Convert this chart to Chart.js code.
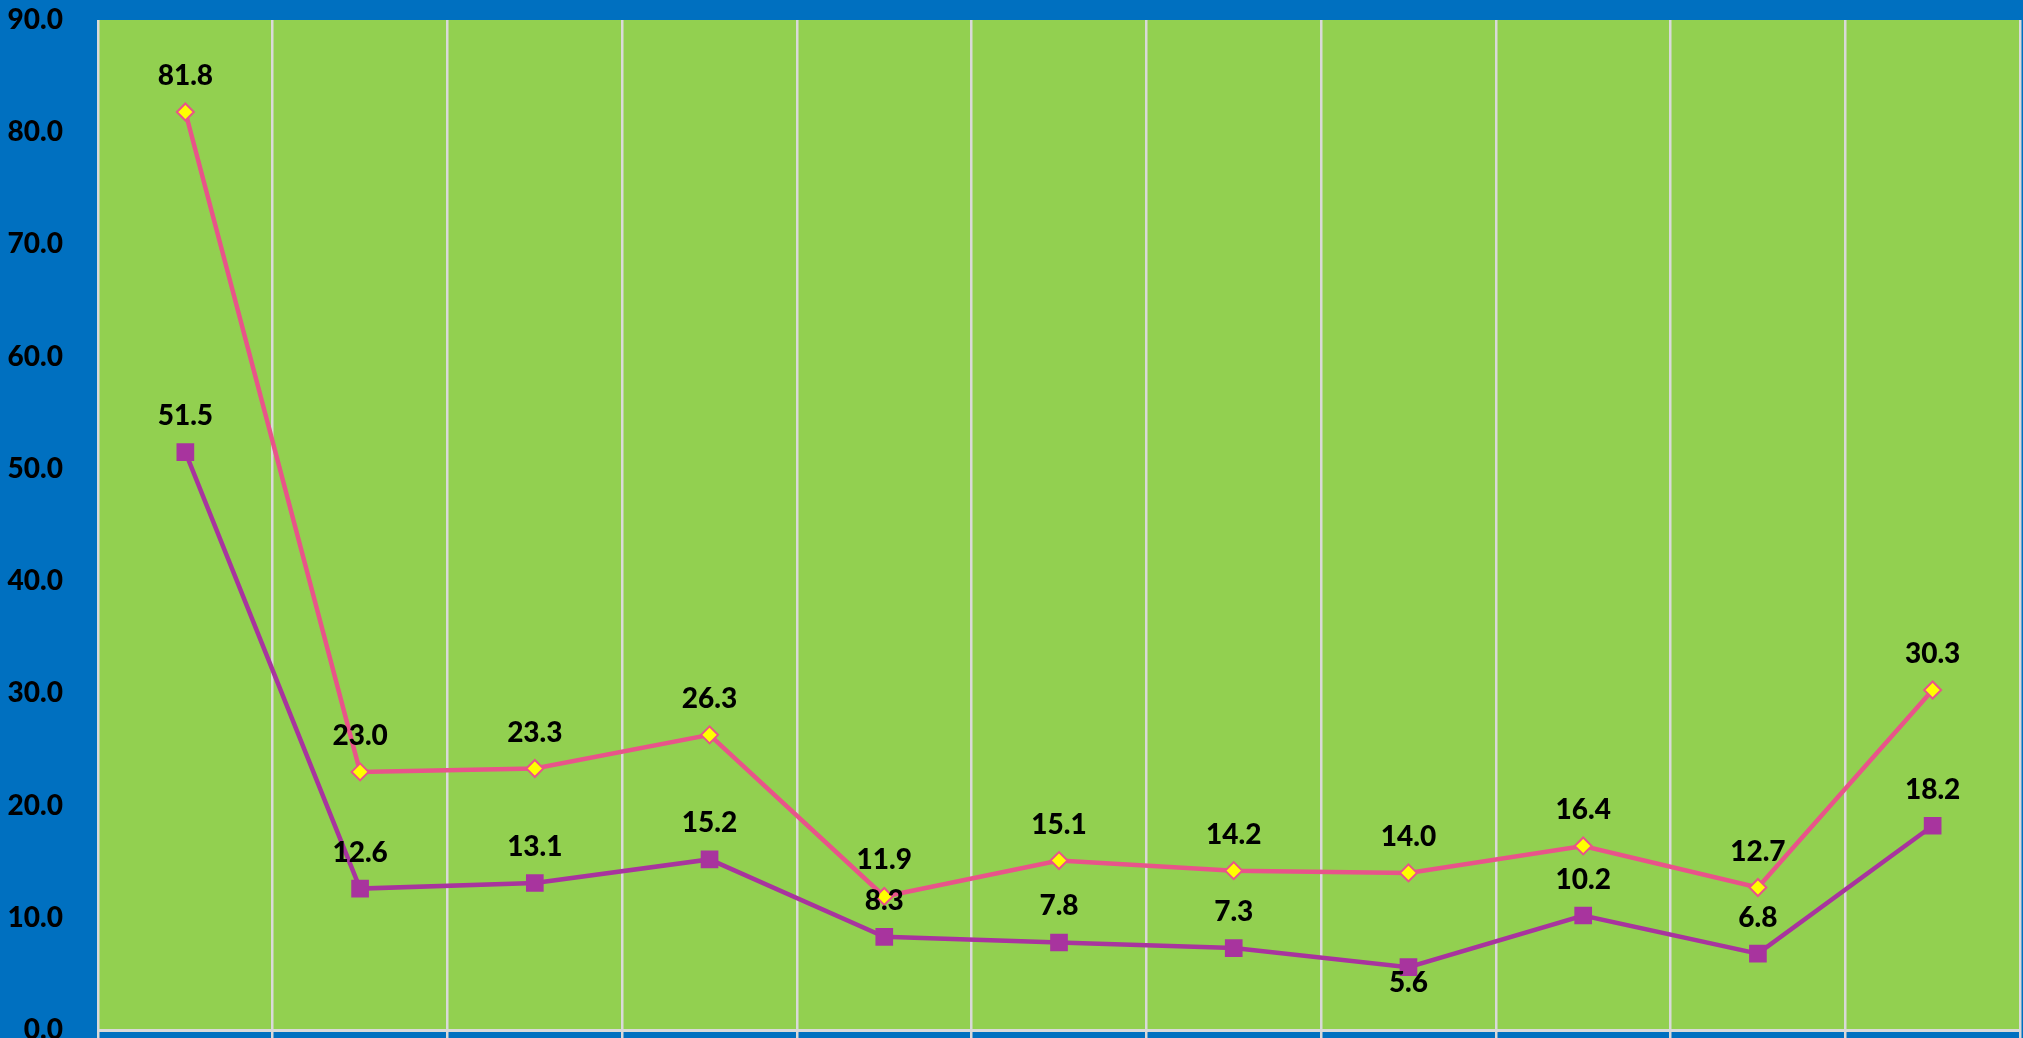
<!DOCTYPE html>
<html><head><meta charset="utf-8">
<script src="https://cdn.jsdelivr.net/npm/chart.js@4"></script>
<style>html,body{margin:0;padding:0;background:#0070C0;overflow:hidden}canvas{display:block}</style>
</head><body><canvas id="c" width="2023" height="1038" style="width:2023px;height:1038px"></canvas>
<script>
// Categories (no category labels are visible in the reference)
const categories = ['1','2','3','4','5','6','7','8','9','10','11'];
const seriesPink = [81.8, 23.0, 23.3, 26.3, 11.9, 15.1, 14.2, 14.0, 16.4, 12.7, 30.3];
const seriesPurple = [51.5, 12.6, 13.1, 15.2, 8.3, 7.8, 7.3, 5.6, 10.2, 6.8, 18.2];
const yTicks = [0, 10, 20, 30, 40, 50, 60, 70, 80, 90];

const FONT = {family: 'Lato', weight: '900', size: 28};

const bgPlugin = {
  id: 'bg',
  beforeDraw(chart) {
    const {ctx, chartArea: a} = chart;
    ctx.save();
    ctx.fillStyle = '#0070C0';
    ctx.fillRect(0, 0, chart.width, chart.height);
    ctx.fillStyle = '#92D050';
    ctx.fillRect(a.left, a.top, a.right - a.left, a.bottom - a.top);
    ctx.restore();
  }
};

const labelPlugin = {
  id: 'vlabels',
  afterDatasetsDraw(chart) {
    const ctx = chart.ctx;
    ctx.save();
    ctx.font = `${FONT.weight} ${FONT.size}px ${FONT.family}`;
    ctx.fillStyle = '#000';
    ctx.textAlign = 'center';
    ctx.textBaseline = 'middle';
    chart.data.datasets.forEach((ds, i) => {
      const meta = chart.getDatasetMeta(i);
      const below = ds.labelBelow || [];
      meta.data.forEach((pt, j) => {
        const y = below.includes(j) ? pt.y + 16 : pt.y - 36;
        ctx.fillText(Number(ds.data[j]).toFixed(1), pt.x, y);
      });
    });
    ctx.restore();
  }
};

new Chart(document.getElementById('c'), {
  type: 'line',
  data: {
    labels: categories,
    datasets: [
      {
        data: seriesPink,
        borderColor: '#E8548A',
        borderWidth: 4.5,
        tension: 0,
        pointStyle: 'rectRot',
        pointRadius: 8.5,
        pointBorderWidth: 2,
        pointBackgroundColor: '#FFFF00',
        pointBorderColor: '#E8548A'
      },
      {
        data: seriesPurple,
        borderColor: '#A8349E',
        borderWidth: 4.5,
        tension: 0,
        pointStyle: 'rect',
        pointRadius: 12.5,
        pointBorderWidth: 0,
        pointBackgroundColor: '#A8349E',
        pointBorderColor: '#A8349E',
        labelBelow: [7]
      }
    ]
  },
  options: {
    responsive: false,
    maintainAspectRatio: false,
    devicePixelRatio: 1,
    animation: false,
    layout: {autoPadding: false, padding: {top: 20, right: 3, bottom: 0, left: 0}},
    plugins: {legend: {display: false}, tooltip: {enabled: false}},
    scales: {
      x: {
        type: 'category',
        offset: true,
        grid: {offset: true, color: '#D9D9D9', lineWidth: 2.5, tickLength: 8, drawTicks: true},
        border: {color: '#D9D9D9', width: 3},
        ticks: {display: false},
        afterFit(s) { s.height = 8; s.paddingLeft = 0; s.paddingRight = 0; }
      },
      y: {
        min: 0, max: 90,
        afterBuildTicks(s) { s.ticks = yTicks.map(v => ({value: v})); },
        ticks: {callback: v => Number(v).toFixed(1), color: '#000', font: FONT, padding: 27},
        grid: {display: false},
        border: {display: false},
        afterFit(s) { s.width = 98; s.paddingTop = 0; s.paddingBottom = 0; }
      }
    }
  },
  plugins: [bgPlugin, labelPlugin]
});
</script>
</body></html>
